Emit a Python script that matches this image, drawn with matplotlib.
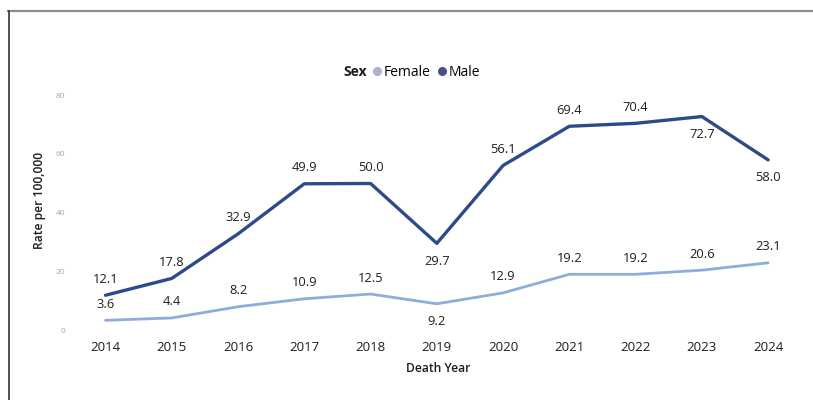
import matplotlib.pyplot as plt
from matplotlib.lines import Line2D

years = [2014, 2015, 2016, 2017, 2018, 2019, 2020, 2021, 2022, 2023, 2024]
male = [12.1, 17.8, 32.9, 49.9, 50.0, 29.7, 56.1, 69.4, 70.4, 72.7, 58.0]
female = [3.6, 4.4, 8.2, 10.9, 12.5, 9.2, 12.9, 19.2, 19.2, 20.6, 23.1]
# label placement: 1 above the point, -1 below
male_side = [1, 1, 1, 1, 1, -1, 1, 1, 1, -1, -1]
female_side = [1, 1, 1, 1, 1, -1, 1, 1, 1, 1, 1]
y_ticks = [0, 20, 40, 60, 80]

male_color = '#2d4a8a'
female_color = '#8daedb'

plt.rcParams['font.family'] = ['Open Sans', 'DejaVu Sans']

fig = plt.figure(figsize=(8.13, 4.0), dpi=100)
ax = fig.add_axes([0.111, 0.155, 0.855, 0.62])

ax.plot(years, female, color=female_color, lw=2.0, solid_capstyle='round')
ax.plot(years, male, color=male_color, lw=2.4, solid_capstyle='round')

for series, sides in ((male, male_side), (female, female_side)):
    for x, v, s in zip(years, series, sides):
        off = 11.5 if s > 0 else -13
        ax.annotate(f'{v:.1f}', (x, v), xytext=(0, off), textcoords='offset points',
                    ha='center', va='center', fontsize=9.3, color='#1e1e1e')

ax.set_xlim(2013.77, 2024.26)
ax.set_ylim(-2.4, 81.7)
ax.set_xticks(years)
ax.set_xticklabels([str(y) for y in years], fontsize=9.5, color='#1e1e1e')
ax.set_yticks(y_ticks)
ax.set_yticklabels([str(t) for t in y_ticks], fontsize=6, color='#a8a8a8')
ax.tick_params(axis='x', length=0, pad=2)
ax.tick_params(axis='y', length=0, pad=18)
for sp in ax.spines.values():
    sp.set_visible(False)

ax.set_xlabel('Death Year', fontsize=8.7, fontweight='semibold', color='#1e1e1e', labelpad=6)
fig.text(0.049, 0.5, 'Rate per 100,000', rotation=90, ha='center', va='center',
         fontsize=8.7, fontweight='semibold', color='#1e1e1e')

# legend
fig.text(0.452, 0.82, 'Sex', ha='right', va='center', fontsize=10, fontweight='bold', color='#1e1e1e')
handles = [Line2D([], [], ls='', marker='o', ms=5.5, color='#aab2cc'),
           Line2D([], [], ls='', marker='o', ms=5.5, color='#4a4f8a')]
fig.legend(handles, ['Female', 'Male'], loc='center left', bbox_to_anchor=(0.455, 0.82),
           ncol=2, frameon=False, fontsize=10, handletextpad=0.0, columnspacing=0.3,
           handlelength=1.0, borderaxespad=0, borderpad=0)

# frame lines
fig.add_artist(Line2D([0.010, 1.0], [0.973, 0.973], color='#8c8c8c', lw=1.6))
fig.add_artist(Line2D([0.011, 0.011], [0.0, 0.973], color='#333333', lw=1.2))

fig.savefig('out.png', dpi=100)
